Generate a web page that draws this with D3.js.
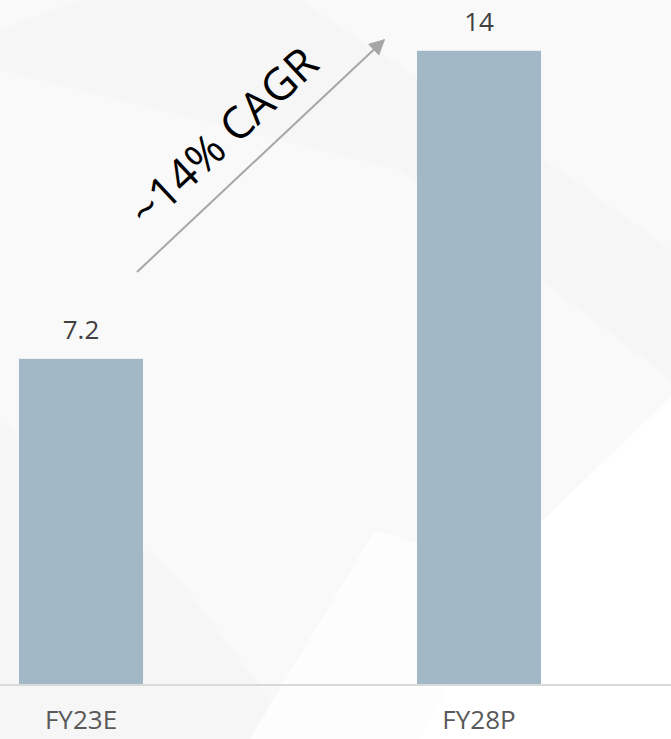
<!DOCTYPE html>
<html>
<head>
<meta charset="utf-8">
<script src="https://cdn.jsdelivr.net/npm/d3@7"></script>
<style>
  html, body { margin: 0; padding: 0; background: #ffffff; }
  svg { display: block; }
</style>
</head>
<body>
<svg id="chart"></svg>
<script>
// chart data
const categories = [ 'FY23E', 'FY28P' ];
const values = [ 7.2, 14 ];
const valueLabels = [ '7.2', '14' ];
const cagrLabel = '~14% CAGR';

const width = 671;
const height = 739;
const baseY = 685;

let svg = d3.select( '#chart' )
            .attr( 'width', width )
            .attr( 'height', height );

// faint background shapes
let bg = svg.append( 'g' );
bg.append( 'rect' )
  .attr( 'width', width ).attr( 'height', height )
  .attr( 'fill', '#f9f9f9' );
bg.append( 'polygon' )
  .attr( 'points', '0,30 80,0 300,0 560,170 671,250 671,380 400,170 0,70' )
  .attr( 'fill', '#f6f6f6' );
bg.append( 'polygon' )
  .attr( 'points', '0,420 180,580 300,739 0,739' )
  .attr( 'fill', '#f6f6f6' );
bg.append( 'polygon' )
  .attr( 'points', '671,395 671,739 250,739 375,530 470,560 540,523' )
  .attr( 'fill', '#fdfdfd' );
bg.append( 'polygon' )
  .attr( 'points', '671,400 671,739 420,739 540,523' )
  .attr( 'fill', '#ffffff' );

let x = d3.scaleBand()
          .domain( categories )
          .range( [ 19, 541 ] )
          .paddingInner( 0.6884 )
          .paddingOuter( 0 );

let y = d3.scaleLinear()
          .domain( [ 0, 14 ] )
          .range( [ baseY, baseY - 14 * 45.3 ] );

// bars
svg.selectAll( '.bar' )
   .data( values )
   .enter().append( 'rect' )
   .attr( 'class', 'bar' )
   .attr( 'x', function( d, i ) { return x( categories[ i ] ) } )
   .attr( 'y', function( d ) { return y( d ) } )
   .attr( 'width', x.bandwidth() )
   .attr( 'height', function( d ) { return y( 0 ) - y( d ) } )
   .attr( 'fill', '#a3b8c6' );

// value labels
svg.selectAll( '.val' )
   .data( values )
   .enter().append( 'text' )
   .attr( 'class', 'val' )
   .attr( 'x', function( d, i ) { return x( categories[ i ] ) + x.bandwidth() / 2 } )
   .attr( 'y', function( d ) { return y( d ) - 20 } )
   .attr( 'text-anchor', 'middle' )
   .attr( 'font-family', 'Open Sans' )
   .attr( 'font-size', 26 )
   .attr( 'fill', '#404040' )
   .text( function( d, i ) { return valueLabels[ i ] } );

// x axis
let xAxis = svg.append( 'g' )
               .attr( 'transform', 'translate(0,' + baseY + ')' )
               .call( d3.axisBottom( x ).tickSize( 0 ).tickPadding( 26 ) );
xAxis.select( '.domain' ).remove();
xAxis.append( 'line' )
     .attr( 'x1', 0 ).attr( 'x2', width )
     .attr( 'stroke', '#d9d9d9' ).attr( 'stroke-width', 2 );
xAxis.selectAll( 'text' )
     .attr( 'font-family', 'Open Sans' )
     .attr( 'font-size', 26 )
     .attr( 'fill', '#595959' );

// CAGR arrow
let defs = svg.append( 'defs' );
defs.append( 'marker' )
    .attr( 'id', 'head' )
    .attr( 'viewBox', '0 0 10 10' )
    .attr( 'refX', 9 ).attr( 'refY', 5 )
    .attr( 'markerWidth', 8 ).attr( 'markerHeight', 8 )
    .attr( 'orient', 'auto' )
    .append( 'path' )
    .attr( 'd', 'M0,0 L10,5 L0,10 z' )
    .attr( 'fill', '#a6a6a6' );

svg.append( 'line' )
   .attr( 'x1', 137 ).attr( 'y1', 272 )
   .attr( 'x2', 384 ).attr( 'y2', 40 )
   .attr( 'stroke', '#a6a6a6' )
   .attr( 'stroke-width', 2 )
   .attr( 'marker-end', 'url(#head)' );

svg.append( 'text' )
   .attr( 'transform', 'translate(234,148) rotate(-43)' )
   .attr( 'text-anchor', 'middle' )
   .attr( 'font-family', 'Open Sans' )
   .attr( 'font-size', 44 )
   .attr( 'fill', '#000000' )
   .text( cagrLabel );
</script>
</body>
</html>
